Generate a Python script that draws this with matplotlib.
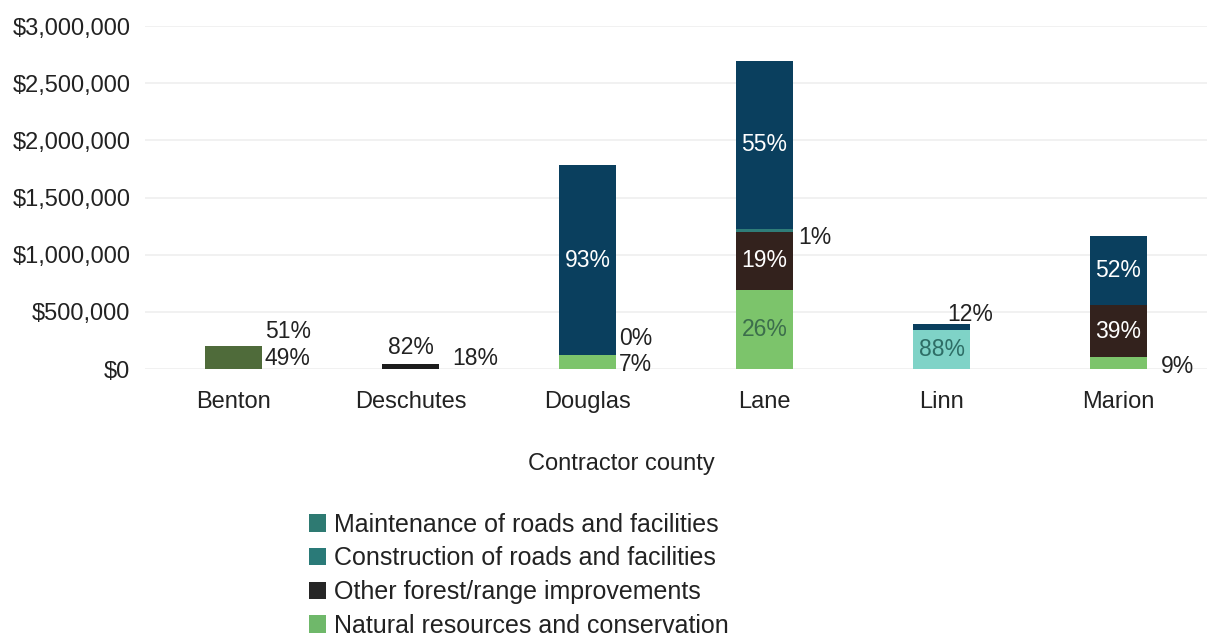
import matplotlib
matplotlib.use("Agg")
import matplotlib.pyplot as plt
from matplotlib.patches import Patch
from matplotlib.ticker import FuncFormatter
from matplotlib.transforms import offset_copy

plt.rcParams['font.family'] = ['Liberation Sans', 'DejaVu Sans']

# ---------------- data ----------------
counties = ["Benton", "Deschutes", "Douglas", "Lane", "Linn", "Marion"]
totals = [200000, 40000, 1780000, 2670000, 390000, 1160000]

series_names = ["Natural resources and conservation",
                "Other forest/range improvements",
                "Maintenance of roads and facilities",
                "Construction of roads and facilities"]
# share (%) of each county's total, bottom-up stacking order
natural_pct      = [49, 18, 7, 26, 0, 9]
other_pct        = [51, 82, 0, 19, 0, 39]
maintenance_pct  = [0, 0, 0, 1, 88, 0]
construction_pct = [0, 0, 93, 55, 12, 52]

legend_labels = ["Maintenance of roads and facilities",
                 "Construction of roads and facilities",
                 "Other forest/range improvements",
                 "Natural resources and conservation"]

# ---------------- styles ----------------
series_colors = ["#7cc46b", "#33221d", "#2f7d78", "#0a3f5e"]
# per-bar colour overrides as seen in the scanned figure
bar_override = {0: "#4f6b3a", 1: "#1c1c1c"}
seg_override = {(4, 2): "#7fd3c7"}
legend_colors = ["#2e7a72", "#2a7a78", "#262626", "#6fb86a"]

# label placement: (county, series) -> (mode, dx_px, dy_px, color)
label_spec = {
    (0, 0): ("right", 3, 5, "#222222"),
    (0, 1): ("right", 3, 20, "#222222"),
    (1, 1): ("top", 0, 17, "#222222"),
    (1, 0): ("right", 13, 10, "#222222"),
    (2, 3): ("in", 0, 0, "white"),
    (2, 1): ("right", 3, 16, "#222222"),
    (2, 0): ("right", 3, -3, "#222222"),
    (3, 3): ("in", 0, 0, "white"),
    (3, 2): ("right", 5, -7, "#222222"),
    (3, 1): ("in", 0, 0, "white"),
    (3, 0): ("in", 0, 0, "#3c6e4c"),
    (4, 3): ("topedge", 0, 10, "#222222"),
    (4, 2): ("in", 0, 0, "#2e6e66"),
    (5, 3): ("in", 0, 0, "white"),
    (5, 1): ("in", 0, 0, "white"),
    (5, 0): ("right", 14, -3, "#222222"),
}

W, H = 1210, 639
fig = plt.figure(figsize=(W / 100, H / 100), dpi=100)
ax = fig.add_axes([145 / W, 1 - 369 / H, (1207 - 145) / W, (369 - 26) / H])

pcts = [natural_pct, other_pct, maintenance_pct, construction_pct]
bar_w = 0.32
x = list(range(len(counties)))
bottoms = [0.0] * len(counties)
seg_pos = {}
for s, pct in enumerate(pcts):
    vals = [t * p / 100 for t, p in zip(totals, pct)]
    cols = []
    for i in x:
        c = series_colors[s]
        if i in bar_override:
            c = bar_override[i]
        if (i, s) in seg_override:
            c = seg_override[(i, s)]
        cols.append(c)
    ax.bar(x, vals, bar_w, bottom=bottoms, color=cols, edgecolor="none",
           zorder=3)
    for i in x:
        seg_pos[(i, s)] = (bottoms[i], bottoms[i] + vals[i])
    bottoms = [b + v for b, v in zip(bottoms, vals)]

fs_lab = 16.5
pt = 72 / 100
for (i, s), (mode, dx, dy, col) in label_spec.items():
    lo, hi = seg_pos[(i, s)]
    txt = f"{pcts[s][i]}%"
    tr = offset_copy(ax.transData, fig=fig, x=dx * pt, y=dy * pt,
                     units="points")
    if mode == "in":
        ax.text(i, (lo + hi) / 2, txt, ha="center", va="center",
                color=col, fontsize=fs_lab, zorder=5)
    elif mode == "right":
        ax.text(i + bar_w / 2, (lo + hi) / 2, txt, ha="left", va="center",
                color=col, fontsize=fs_lab, transform=tr, zorder=5)
    elif mode == "top":
        ax.text(i, totals[i], txt, ha="center", va="center",
                color=col, fontsize=fs_lab, transform=tr, zorder=5)
    elif mode == "topedge":
        ax.text(i + bar_w / 2, totals[i], txt, ha="center", va="center",
                color=col, fontsize=fs_lab, transform=tr, zorder=5)

ax.set_xlim(-0.5, len(counties) - 0.5)
ax.set_ylim(0, 3000000)
ax.set_yticks([0, 500000, 1000000, 1500000, 2000000, 2500000, 3000000])
ax.yaxis.set_major_formatter(FuncFormatter(lambda v, p: f"${v:,.0f}"))
ax.set_xticks(x)
ax.set_xticklabels(counties)
ax.tick_params(axis="both", length=0, labelsize=17, colors="#222222")
ax.tick_params(axis="y", pad=10.5)
ax.tick_params(axis="x", pad=16)
ax.grid(axis="y", color="#efefef", linewidth=1.2, zorder=0)
for sp in ax.spines.values():
    sp.set_visible(False)

fig.text(621 / W, 1 - 464 / H, "Contractor county", ha="center",
         va="center", fontsize=17, color="#222222")

handles = [Patch(facecolor=c, edgecolor="none") for c in legend_colors]
fig.legend(handles, legend_labels, loc="upper left",
           bbox_to_anchor=(296 / W, 1 - 500 / H), frameon=False,
           fontsize=18, handlelength=0.7, handleheight=0.7,
           handletextpad=0.3, labelspacing=0.39, borderpad=0,
           labelcolor="#222222")

fig.savefig("out.png", dpi=100)
